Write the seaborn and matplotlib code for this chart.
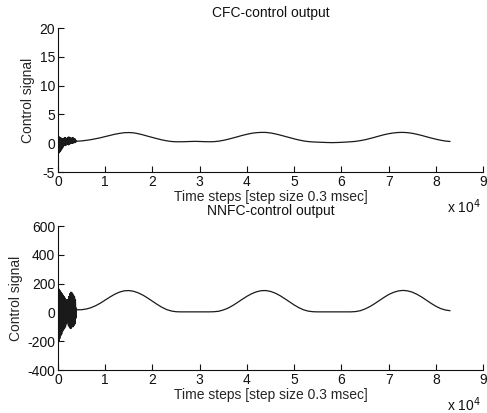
import numpy as np
import pandas as pd
import matplotlib
matplotlib.use("Agg")
import matplotlib.pyplot as plt
from matplotlib.ticker import FuncFormatter, MultipleLocator
import seaborn as sns

# Sample times (time steps): fast transient, then the slow part every 1000 steps
burst_steps = np.arange(0, 4000, 100)
smooth_steps = np.arange(4000, 84000, 1000)

# CFC-control output
cfc_burst = [0, 1.0, -1.7, 1.1, -1.5, 1.0, -1.3, 0.9, -1.0, 0.8,
             -0.8, 0.7, -0.5, 0.9, -0.4, 1.0, -0.4, 0.9, -0.3, 0.8,
             -0.2, 1.0, -0.3, 1.1, -0.2, 1.0, -0.1, 0.9, 0.0, 0.9,
             0.0, 1.0, 0.0, 0.9, 0.1, 0.8, 0.1, 0.7, 0.2, 0.4]
cfc_smooth = [0.35, 0.4, 0.5, 0.62, 0.78, 0.95, 1.15, 1.35, 1.55, 1.7,
              1.82, 1.85, 1.8, 1.65, 1.45, 1.22, 1.0, 0.78, 0.58, 0.42,
              0.3, 0.25, 0.25, 0.27, 0.3, 0.32, 0.3, 0.27, 0.25, 0.27,
              0.35, 0.5, 0.68, 0.9, 1.12, 1.35, 1.55, 1.72, 1.83, 1.88,
              1.87, 1.78, 1.62, 1.42, 1.2, 0.98, 0.76, 0.56, 0.4, 0.28,
              0.22, 0.18, 0.15, 0.12, 0.1, 0.12, 0.15, 0.2, 0.25, 0.32,
              0.45, 0.6, 0.8, 1.02, 1.25, 1.47, 1.65, 1.78, 1.86, 1.88,
              1.83, 1.72, 1.55, 1.35, 1.12, 0.9, 0.7, 0.52, 0.38, 0.3]

# NNFC-control output
nnfc_burst = [0, 170, -200, 160, -180, 150, -160, 140, -150, 130,
              -130, 120, -120, 110, -110, 100, -100, 90, -80, 70,
              -70, 90, -90, 110, -100, 130, -110, 140, -110, 140,
              -100, 130, -100, 120, -90, 110, -80, 90, -40, 30]
nnfc_smooth = [18, 19, 24, 33, 47, 65, 86, 107, 126, 141,
               150, 152, 147, 136, 120, 100, 78, 56, 36, 20,
               10, 5, 4, 4, 4, 4, 4, 4, 4, 5,
               8, 17, 30, 48, 69, 91, 112, 130, 143, 151,
               152, 146, 134, 117, 96, 74, 52, 33, 18, 9,
               5, 4, 4, 4, 4, 4, 4, 4, 4, 6,
               12, 24, 40, 60, 82, 104, 124, 139, 149, 153,
               150, 141, 126, 107, 85, 63, 43, 27, 17, 12]

panels = [
    ("CFC-control output", cfc_burst + cfc_smooth, (-5, 20), 5),
    ("NNFC-control output", nnfc_burst + nnfc_smooth, (-400, 600), 200),
]

sns.set_style("ticks")
plt.rcParams["font.family"] = ["Liberation Sans", "DejaVu Sans"]
plt.rcParams["text.color"] = "#111111"

fig = plt.figure(figsize=(4.87, 4.13), dpi=100)
fig.patch.set_facecolor("white")

steps = np.concatenate([burst_steps, smooth_steps])
positions = [[0.119, 0.5835, 0.873, 0.3487], [0.119, 0.104, 0.873, 0.3487]]
fs = 10

for (title, values, ylim, ystep), pos in zip(panels, positions):
    ax = fig.add_axes(pos)
    df = pd.DataFrame({"step": steps, "signal": values})
    sns.lineplot(data=df, x="step", y="signal", ax=ax, color="#1a1a1a",
                 linewidth=0.9, estimator=None, sort=False)
    ax.set_xlim(0, 90000)
    ax.set_ylim(*ylim)
    ax.xaxis.set_major_locator(MultipleLocator(10000))
    ax.yaxis.set_major_locator(MultipleLocator(ystep))
    ax.xaxis.set_major_formatter(FuncFormatter(lambda v, p: f"{v / 1e4:g}"))
    ax.yaxis.set_major_formatter(FuncFormatter(lambda v, p: f"{v:g}"))
    sns.despine(ax=ax)
    for side in ("left", "bottom"):
        ax.spines[side].set_color("#111111")
        ax.spines[side].set_linewidth(0.8)
    ax.tick_params(direction="in", length=4, width=0.8, colors="#111111",
                   labelsize=fs, pad=2)
    ax.set_title(title, fontsize=fs, pad=8)
    ax.set_xlabel("Time steps [step size 0.3 msec]", fontsize=fs, labelpad=1)
    ax.set_ylabel("Control signal", fontsize=fs, labelpad=3)
    # axis multiplier for the x ticks
    ax.text(0.995, -0.24, r"x 10$^4$", transform=ax.transAxes,
            fontsize=fs, ha="right", va="center")

fig.savefig("out.png", dpi=100, facecolor="white")
